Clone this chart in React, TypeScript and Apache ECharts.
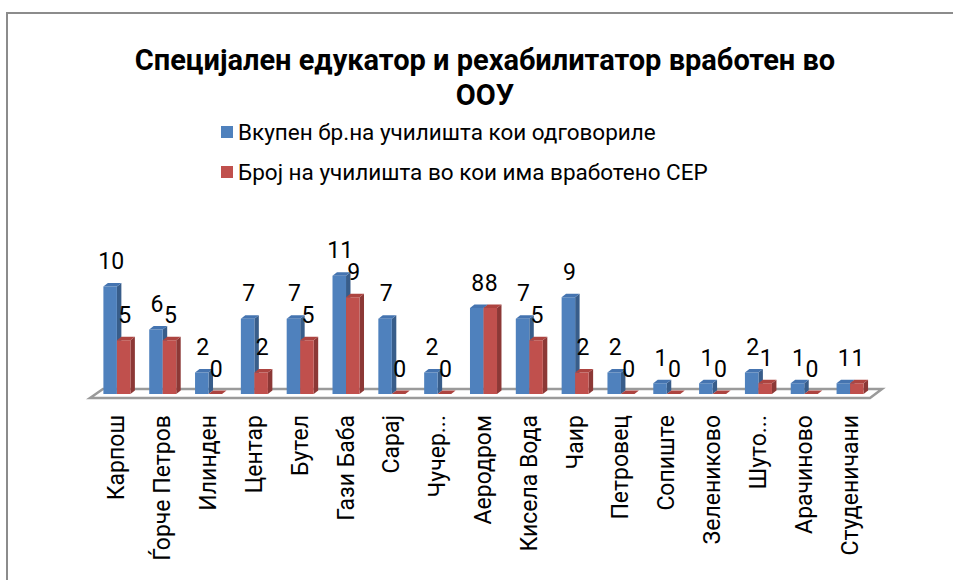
import React, { useEffect, useRef } from "react";
import * as echarts from "echarts";

const categories = [
  "Карпош", "Ѓорче Петров", "Илинден", "Центар", "Бутел", "Гази Баба", "Сарај", "Чучер...",
  "Аеродром", "Кисела Вода", "Чаир", "Петровец", "Сопиште", "Зелениково", "Шуто...", "Арачиново", "Студеничани",
];
const totalSchools = [10, 6, 2, 7, 7, 11, 7, 2, 8, 7, 9, 2, 1, 1, 2, 1, 1];
const schoolsWithSER = [5, 5, 0, 2, 5, 9, 0, 0, 8, 5, 2, 0, 0, 0, 1, 0, 1];
const seriesNames = [
  "Вкупен бр.на училишта кои одговориле",
  "Број на училишта во кои има вработено СЕР",
];
const titleText = "Специјален едукатор и рехабилитатор вработен во\nООУ";

const FONT = "Roboto";
const palette = [
  { front: "#4F81BD", top: "#4574B0", side: "#385D8A" },
  { front: "#C0504D", top: "#AD4440", side: "#8C3836" },
];

function makeBarSeries(name: string, values: number[], s: number) {
  const col = palette[s];
  return {
    type: "custom",
    name,
    data: values.map((v, i) => [i, v]),
    encode: { x: 0, y: 1 },
    z: 2 + s,
    renderItem: (params: any, api: any) => {
      const idx = api.value(0);
      const val = api.value(1);
      const base = api.coord([idx, 0]);
      const topPt = api.coord([idx, val]);
      const bw = api.size([1, 0])[0];
      const w = bw * 0.295;
      const dx = w * 0.33;
      const dy = -w * 0.26;
      const x0 = s === 0 ? base[0] - w : base[0];
      const x1 = x0 + w;
      const yb = base[1];
      const yt = topPt[1];
      const children: any[] = [];
      if (val > 0) {
        children.push({
          type: "polygon",
          shape: { points: [[x1, yb], [x1 + dx, yb + dy], [x1 + dx, yt + dy], [x1, yt]] },
          style: { fill: col.side },
        });
        children.push({
          type: "rect",
          shape: { x: x0, y: yt, width: w, height: yb - yt },
          style: { fill: col.front },
        });
      }
      children.push({
        type: "polygon",
        shape: { points: [[x0, yt], [x0 + dx, yt + dy], [x1 + dx, yt + dy], [x1, yt]] },
        style: { fill: col.top },
      });
      children.push({
        type: "text",
        style: {
          text: String(val),
          x: (x0 + x1) / 2 + 1,
          y: yt - 25,
          align: "center",
          verticalAlign: "middle",
          fontSize: 23,
          fontFamily: FONT,
          fill: "#000",
        },
      });
      return { type: "group", children };
    },
  };
}

const floorSeries = {
  type: "custom",
  name: "floor",
  data: [[0, 0]],
  encode: { x: 0, y: 1 },
  z: 1,
  silent: true,
  renderItem: (params: any, api: any) => {
    const bw = api.size([1, 0])[0];
    const left = api.coord([0, 0]);
    const right = api.coord([categories.length - 1, 0]);
    const xl = left[0] - bw / 2;
    const xr = right[0] + bw / 2;
    const y = left[1];
    return {
      type: "polygon",
      shape: {
        points: [
          [xl - 4, y + 4],
          [xl + 9, y - 5],
          [xr + 9, y - 5],
          [xr - 3, y + 4],
        ],
      },
      style: { fill: "#ffffff", stroke: "#9a9a9a", lineWidth: 2.5 },
    };
  },
};

export default function App() {
  const ref = useRef<HTMLDivElement>(null);
  useEffect(() => {
    document.body.style.margin = "0";
    if (!ref.current) return;
    const chart = echarts.init(ref.current, undefined, { renderer: "svg" });
    chart.setOption({
      animation: false,
      backgroundColor: "#ffffff",
      color: [palette[0].front, palette[1].front],
      title: {
        text: titleText,
        left: 480,
        textAlign: "center",
        top: 37,
        textStyle: {
          fontFamily: FONT,
          fontSize: 29,
          fontWeight: "bold",
          color: "#000",
          lineHeight: 35,
        },
      },
      legend: {
        data: seriesNames.map((n, i) => ({ name: n, itemStyle: { color: palette[i].front } })),
        orient: "vertical",
        left: 216,
        top: 114,
        itemWidth: 12,
        itemHeight: 12,
        itemGap: 14,
        icon: "rect",
        textStyle: { fontFamily: FONT, fontSize: 22.5, color: "#000", lineHeight: 26 },
      },
      graphic: [
        {
          type: "rect",
          shape: { x: 7, y: 13, width: 1200, height: 1000 },
          style: { fill: "none", stroke: "#8c8c8c", lineWidth: 2 },
          silent: true,
        },
      ],
      grid: { left: 94, right: 80, top: 265, bottom: 186 },
      xAxis: {
        type: "category",
        data: categories,
        axisLine: { show: false },
        axisTick: { show: false },
        axisLabel: {
          rotate: 90,
          margin: 21,
          interval: 0,
          fontFamily: FONT,
          fontSize: 23,
          color: "#000",
        },
      },
      yAxis: { type: "value", min: 0, max: 12, show: false, splitLine: { show: false } },
      series: [
        floorSeries,
        makeBarSeries(seriesNames[0], totalSchools, 0),
        makeBarSeries(seriesNames[1], schoolsWithSER, 1),
      ],
    });
    return () => chart.dispose();
  }, []);
  return <div ref={ref} style={{ width: 953, height: 580 }} />;
}
